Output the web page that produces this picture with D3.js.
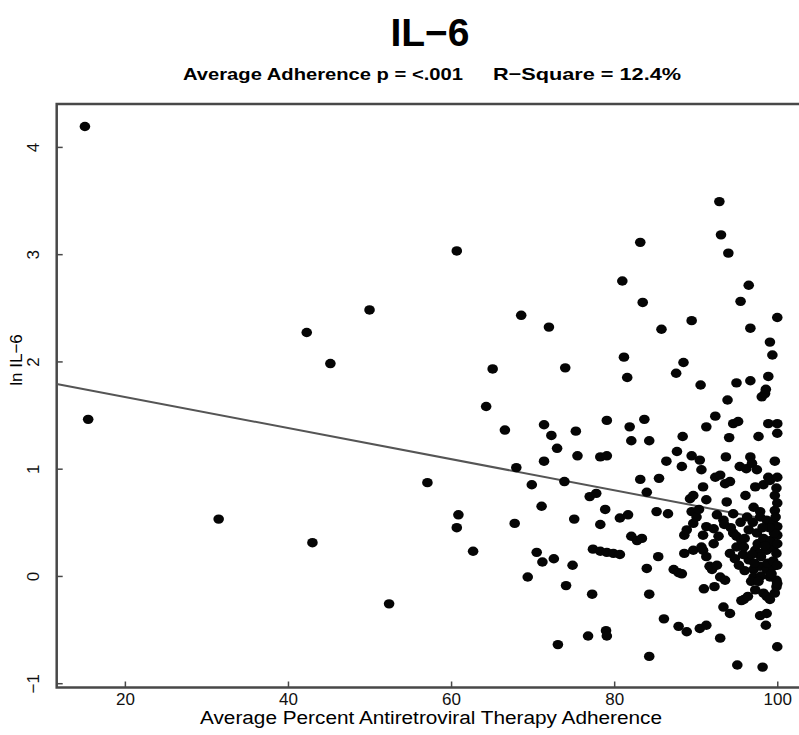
<!DOCTYPE html>
<html>
<head>
<meta charset="utf-8">
<script src="https://cdn.jsdelivr.net/npm/d3@7"></script>
<style>
body { margin: 0; background: #fff; }
text { font-family: "Liberation Sans", Arial, sans-serif; }
</style>
</head>
<body>
<svg id="graph"></svg>
<script>
// average percent ART adherence (x) and ln IL-6 (y)
var adherence = [15.1,15.5,31.5,42.3,43.0,45.2,50.0,52.4,57.1,60.7,60.9,60.7,62.7,64.3,65.1,66.6,67.8,68.0,68.6,69.4,
  69.9,70.5,71.1,71.2,71.4,71.4,72.0,72.3,72.6,73.0,73.1,73.9,74.0,74.1,74.9,75.1,75.3,75.5,76.8,77.0,
  77.3,77.4,77.8,78.3,78.3,78.3,78.9,79.0,79.1,79.1,79.1,79.1,79.9,80.7,80.7,81.0,81.2,81.6,81.7,81.9,
  82.1,82.1,82.8,83.2,83.2,83.4,83.5,83.7,84.0,84.0,84.3,84.3,84.3,85.2,85.4,85.5,85.8,86.1,86.4,86.6,
  87.3,87.6,87.7,87.9,87.9,88.3,88.3,88.4,88.5,88.6,88.6,88.9,88.9,89.3,89.5,89.5,89.5,89.7,89.7,89.7,
  90.1,90.4,90.5,90.5,90.6,90.7,90.7,90.9,90.9,90.9,91.0,91.3,91.3,91.3,91.3,91.3,91.7,92.0,92.2,92.2,
  92.3,92.4,92.4,92.6,92.6,92.8,92.9,93.0,93.0,93.0,93.1,93.4,93.4,93.6,93.6,93.7,93.8,93.9,94.0,94.1,
  94.2,94.2,94.2,94.6,94.6,94.6,94.8,95.0,95.0,95.0,95.1,95.2,95.4,95.5,95.6,95.6,95.9,96.1,96.2,96.4,
  96.5,96.5,96.7,96.7,96.7,96.9,97.1,97.1,97.1,97.3,97.3,97.3,97.5,97.5,97.7,97.9,97.9,97.9,97.9,97.9,
  98.1,98.2,98.3,98.3,98.5,98.6,98.6,98.7,98.7,98.7,98.7,98.7,98.9,98.9,98.9,99.1,99.1,99.1,99.1,99.4,
  99.5,99.5,99.5,99.7,99.7,99.7,99.7,99.9,99.9,99.9,99.9,100,100,100,100,100,
  96.5,97.2,98.0,98.8,99.5,100,97.6,98.3,99.2,100,96.8,98.0,99.3,100,93.5,94.3,95.5,96.3,95.8,95.9,
  100,100,100,99.6,96.0,96.9,97.7,98.5,99.0,96.0,95.3,97.0,98.2,99.8];
var lnIL6 = [4.19,1.46,0.53,2.27,0.31,1.98,2.48,-0.26,0.87,3.03,0.57,0.45,0.23,1.58,1.93,1.36,0.49,1.01,2.43,-0.01,
  0.85,0.22,0.65,0.13,1.41,1.07,2.32,1.31,0.16,1.19,-0.64,0.88,1.94,-0.09,0.10,0.53,1.35,1.12,-0.56,0.74,
  -0.17,0.25,0.77,1.11,0.48,0.23,0.62,-0.51,-0.56,1.45,1.12,0.22,0.21,0.20,0.54,2.75,2.04,1.85,0.57,1.39,
  1.26,0.37,0.33,3.11,0.90,0.35,2.55,1.46,0.78,0.07,1.26,-0.17,-0.75,0.60,0.18,0.91,2.30,-0.40,1.07,0.58,
  0.06,1.89,1.16,0.03,-0.47,1.02,0.02,1.30,1.99,0.38,0.21,-0.52,0.43,0.72,2.38,1.12,0.60,0.75,0.49,0.24,
  0.55,0.62,1.08,-0.49,1.78,0.99,0.27,0.83,0.38,0.24,-0.12,1.39,0.71,0.46,0.18,-0.46,0.09,0.06,0.44,0.30,
  -0.10,1.49,0.92,0.57,0.10,0.37,3.49,0.94,-0.01,-0.58,3.18,0.52,-0.29,0.86,-0.04,1.11,0.69,1.64,3.01,1.29,
  0.88,0.21,-0.35,1.42,0.58,0.40,0.16,1.80,0.37,0.27,-0.83,1.44,1.02,2.56,0.33,-0.23,-0.22,0.75,1.00,-0.19,
  2.71,0.43,2.31,1.11,1.82,1.05,0.64,0.06,-0.01,0.83,0.24,-0.13,0.99,0.40,1.30,0.60,0.55,0.21,0.09,-0.37,
  1.67,-0.85,0.85,-0.16,1.70,1.74,-0.46,0.52,0.24,0.06,-0.19,-0.35,1.86,1.42,0.92,2.18,0.89,-0.01,-0.22,2.06,
  0.49,0.26,0.09,1.07,0.75,0.61,-0.16,0.82,0.21,-0.04,-0.10,2.41,1.42,1.33,0.46,-0.66,
  0.15,0.12,0.18,0.12,0.14,0.10,0.30,0.35,0.33,0.30,-0.05,0.00,0.02,-0.07,0.48,0.45,0.50,0.55,0.20,0.27,
  0.92,0.68,0.38,0.40,0.05,0.20,-0.05,0.28,0.45,0.35,0.10,0.50,0.45,0.55];

var xTicks = [20, 40, 60, 80, 100];
var yTicks = [-1, 0, 1, 2, 3, 4];
var fitIntercept = 1.959, fitSlope = -0.0145;   // least squares line
var fitRange = [11.64, 100];

var titleText = "IL\u22126";
var subLeft = "Average Adherence p = <.001";
var subRight = "R\u2212Square = 12.4%";
var xLabel = "Average Percent Antiretroviral Therapy Adherence";
var yLabel = "ln IL\u22126";

function drawScatter() {
    var width = 799, height = 735;
    var svg = d3.select("#graph").attr("width", width).attr("height", height);

    var x = d3.scaleLinear().domain([11.64, 103.4]).range([56.7, 805]);
    var y = d3.scaleLinear().domain([-1.04, 4.40]).range([687.5, 104]);

    var pts = adherence.map(function (a, i) { return { x: a, y: lnIL6[i] }; });

    // frame
    svg.append("rect")
        .attr("x", x.range()[0]).attr("y", y.range()[1])
        .attr("width", x.range()[1] - x.range()[0])
        .attr("height", y.range()[0] - y.range()[1])
        .attr("fill", "none").attr("stroke", "#484848").attr("stroke-width", 2.5);

    var xAxis = svg.append("g")
        .attr("transform", "translate(0," + y.range()[0] + ")")
        .call(d3.axisBottom(x).tickValues(xTicks).tickSizeInner(-6).tickSizeOuter(0).tickPadding(5));
    xAxis.select(".domain").remove();
    xAxis.selectAll("line").attr("stroke", "#484848").attr("stroke-width", 1.5);
    xAxis.selectAll("text").attr("font-size", 17).attr("fill", "#111");

    var yAxis = svg.append("g")
        .attr("transform", "translate(" + x.range()[0] + ",0)")
        .call(d3.axisLeft(y).tickValues(yTicks).tickSizeInner(-6).tickSizeOuter(0)
            .tickFormat(function (d) { return d < 0 ? "\u2212" + Math.abs(d) : d; }));
    yAxis.select(".domain").remove();
    yAxis.selectAll("line").attr("stroke", "#484848").attr("stroke-width", 1.5);
    yAxis.selectAll("text")
        .attr("x", null).attr("dy", null)
        .attr("text-anchor", "middle")
        .attr("font-size", 17).attr("fill", "#111")
        .attr("transform", "translate(-18,0) rotate(-90)");

    // regression line
    svg.append("line")
        .attr("x1", x(fitRange[0])).attr("y1", y(fitIntercept + fitSlope * fitRange[0]))
        .attr("x2", x(fitRange[1])).attr("y2", y(fitIntercept + fitSlope * fitRange[1]))
        .attr("stroke", "#555").attr("stroke-width", 2);

    svg.append("g").selectAll("ellipse")
        .data(pts)
        .enter()
        .append("ellipse")
        .attr("cx", d => x(d.x))
        .attr("cy", d => y(d.y))
        .attr("rx", 5.3)
        .attr("ry", 4.7)
        .attr("fill", "#050505");

    svg.append("text")
        .attr("x", 430).attr("y", 46)
        .attr("text-anchor", "middle")
        .attr("font-size", 39).attr("font-weight", "bold")
        .text(titleText);

    svg.append("text")
        .attr("x", 183).attr("y", 80)
        .attr("font-size", 17).attr("font-weight", "bold")
        .attr("textLength", 280).attr("lengthAdjust", "spacingAndGlyphs")
        .text(subLeft);
    svg.append("text")
        .attr("x", 493).attr("y", 80)
        .attr("font-size", 17).attr("font-weight", "bold")
        .attr("textLength", 188).attr("lengthAdjust", "spacingAndGlyphs")
        .text(subRight);

    svg.append("text")
        .attr("x", 200).attr("y", 724)
        .attr("font-size", 18)
        .attr("textLength", 462).attr("lengthAdjust", "spacingAndGlyphs")
        .text(xLabel);

    svg.append("text")
        .attr("transform", "translate(22,360) rotate(-90)")
        .attr("text-anchor", "middle")
        .attr("font-size", 17)
        .text(yLabel);
}

drawScatter();
</script>
</body>
</html>
